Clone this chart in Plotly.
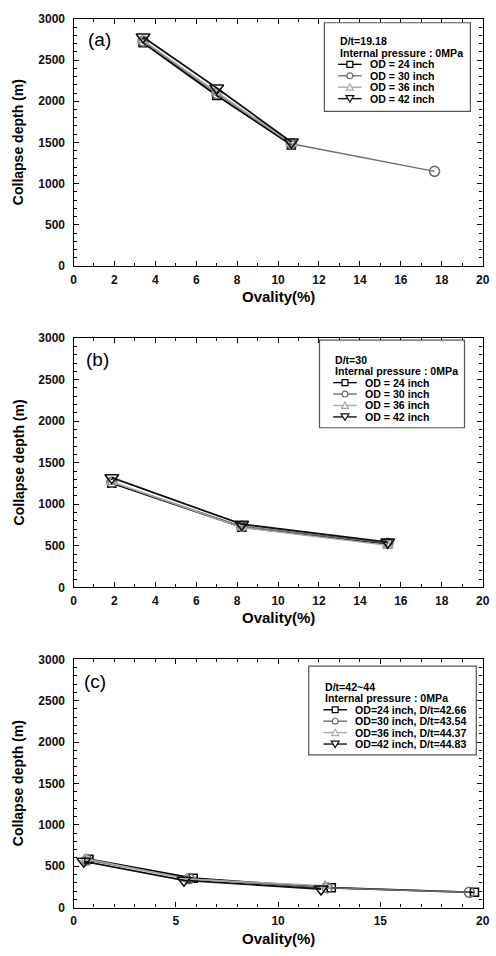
import plotly.graph_objects as go

W, H = 496, 956

# ---------------- data ----------------
series_names = ["OD = 24 inch", "OD = 30 inch", "OD = 36 inch", "OD = 42 inch"]
series_names_c = ["OD=24 inch, D/t=42.66", "OD=30 inch, D/t=43.54",
                  "OD=36 inch, D/t=44.37", "OD=42 inch, D/t=44.83"]

# panel (a) D/t = 19.18
a_x = [[3.4, 7.0, 10.65], [3.4, 7.0, 10.65, 17.65], [3.4, 7.0, 10.65], [3.4, 7.0, 10.65]]
a_y = [[2710, 2070, 1470], [2730, 2095, 1485, 1150], [2740, 2110, 1490], [2780, 2160, 1505]]

# panel (b) D/t = 30
b_x = [[1.87, 8.22, 15.36], [1.87, 8.22, 15.36], [1.87, 8.22, 15.36], [1.87, 8.22, 15.36]]
b_y = [[1255, 725, 525], [1265, 735, 530], [1270, 720, 505], [1320, 760, 545]]

# panel (c) D/t = 42~44
c_x = [[0.75, 5.85, 12.6, 19.6], [0.65, 5.65, 12.4, 19.35], [0.6, 5.55, 12.3], [0.5, 5.4, 12.1]]
c_y = [[585, 355, 240, 185], [575, 350, 240, 185], [590, 345, 265], [560, 330, 225]]

panel_labels = ["(a)", "(b)", "(c)"]
legend_headers = [["D/t=19.18", "Internal pressure : 0MPa"],
                  ["D/t=30", "Internal pressure : 0MPa"],
                  ["D/t=42~44", "Internal pressure : 0MPa"]]
x_title = "Ovality(%)"
y_title = "Collapse depth (m)"

# ---------------- styles ----------------
colors = ["#000000", "#6e6e6e", "#a8a8a8", "#111111"]
symbols = ["square-open", "circle-open", "triangle-up-open", "triangle-down-open"]
msizes = [8, 10, 9, 12]
lwidths = [1.8, 1.4, 1.4, 1.8]

FONT = "Liberation Sans, Arial, sans-serif"

def px_x(p):
    return p / W

def px_y(p):
    return 1 - p / H

# panel geometry in pixels: (left, right, top, bottom)
panels = [(72, 489.5, 12, 263), (72, 489.5, 336, 589), (72, 489.5, 662, 914)]

fig = go.Figure()

datasets = [(a_x, a_y, series_names), (b_x, b_y, series_names), (c_x, c_y, series_names_c)]

for pi, (xs, ys, names) in enumerate(datasets):
    ax = "" if pi == 0 else str(pi + 1)
    for si in range(4):
        fig.add_trace(go.Scatter(
            x=xs[si], y=ys[si], mode="lines+markers", name=names[si],
            xaxis="x" + ax, yaxis="y" + ax, showlegend=False,
            line=dict(color=colors[si], width=lwidths[si]),
            marker=dict(symbol=symbols[si], size=msizes[si], color=colors[si],
                        line=dict(width=1.6, color=colors[si])),
        ))

layout = dict(
    width=W, height=H, margin=dict(l=0, r=0, t=0, b=0),
    paper_bgcolor="white", plot_bgcolor="white",
    font=dict(family=FONT, color="black"),
    showlegend=False,
)

tickfont = dict(family=FONT, size=12, color="#111", weight="bold")

for pi, (l, r, t, b) in enumerate(panels):
    ax = "" if pi == 0 else str(pi + 1)
    if pi < 2:
        xdt, xminor = 2, 1
    else:
        xdt, xminor = 5, 1
    layout["xaxis" + ax] = dict(
        domain=[px_x(l), px_x(r)], anchor="y" + ax, range=[0, 20],
        tick0=0, dtick=xdt, ticks="inside", ticklen=5, tickwidth=1.2,
        tickcolor="black", showline=True, linecolor="black", linewidth=1.3,
        mirror="allticks", showgrid=False, zeroline=False,
        tickfont=tickfont, ticklabelstandoff=2, ticklabeloverflow="allow",
        minor=dict(dtick=xminor, ticks="inside", ticklen=3, tickwidth=1, tickcolor="black", showgrid=False),
    )
    layout["yaxis" + ax] = dict(
        domain=[px_y(b), px_y(t)], anchor="x" + ax, range=[0, 3000],
        tick0=0, dtick=500, ticks="inside", ticklen=5, tickwidth=1.2,
        tickcolor="black", showline=True, linecolor="black", linewidth=1.3,
        mirror="allticks", showgrid=False, zeroline=False,
        tickfont=tickfont, ticklabelstandoff=5, ticklabeloverflow="allow",
        minor=dict(dtick=100, ticks="inside", ticklen=3, tickwidth=1, tickcolor="black", showgrid=False),
    )

annotations = []
shapes = []

label_pos = [(98, 33), (96, 358), (94, 685)]
for pi, (l, r, t, b) in enumerate(panels):
    # axis titles
    annotations.append(dict(text=y_title, x=px_x(16), y=px_y((t + b) / 2), xref="paper", yref="paper",
                            textangle=-90, showarrow=False, xanchor="center", yanchor="middle",
                            font=dict(family=FONT, size=14, color="black", weight="bold")))
    annotations.append(dict(text=x_title, x=px_x(281), y=px_y(b + 31), xref="paper", yref="paper",
                            showarrow=False, xanchor="center", yanchor="middle",
                            font=dict(family=FONT, size=15, color="black", weight="bold")))
    lx, ly = label_pos[pi]
    annotations.append(dict(text=panel_labels[pi], x=px_x(lx), y=px_y(ly), xref="paper", yref="paper",
                            showarrow=False, xanchor="center", yanchor="middle",
                            font=dict(family=FONT, size=19, color="black")))

# legend boxes (drawn manually so their compact layout matches)
legend_boxes = [
    dict(x0=328, x1=477, y0=16, y1=106, first=35, sym_x=(342, 366), text_x=372),
    dict(x0=323, x1=471, y0=338, y1=427, first=358, sym_x=(337, 361), text_x=367),
    dict(x0=312, x1=483, y0=669, y1=759, first=690, sym_x=(327, 351), text_x=357),
]
legend_labels = [series_names, series_names, series_names_c]
line_gap = 11.6
LFS = 10.6
for pi, bx in enumerate(legend_boxes):
    shapes.append(dict(type="rect", xref="paper", yref="paper",
                       x0=px_x(bx["x0"]), x1=px_x(bx["x1"]), y0=px_y(bx["y1"]), y1=px_y(bx["y0"]),
                       line=dict(color="#555", width=1.2), fillcolor="white", layer="above"))
    # header lines
    for hi, htxt in enumerate(legend_headers[pi]):
        annotations.append(dict(text=htxt, x=px_x(bx["sym_x"][0]),
                                y=px_y(bx["first"] + hi * line_gap), xref="paper", yref="paper",
                                showarrow=False, xanchor="left", yanchor="middle",
                                font=dict(family=FONT, size=LFS, color="black", weight="bold")))
    for si in range(4):
        yy = bx["first"] + (si + 2) * line_gap
        sx0, sx1 = bx["sym_x"]
        shapes.append(dict(type="line", xref="paper", yref="paper",
                           x0=px_x(sx0), x1=px_x(sx1), y0=px_y(yy), y1=px_y(yy),
                           line=dict(color=colors[si], width=1.4), layer="above"))
        cx = (sx0 + sx1) / 2
        s = 3
        if si == 0:
            shapes.append(dict(type="rect", xref="paper", yref="paper",
                               x0=px_x(cx - s), x1=px_x(cx + s), y0=px_y(yy + s), y1=px_y(yy - s),
                               line=dict(color=colors[si], width=1.2), fillcolor="white", layer="above"))
        elif si == 1:
            shapes.append(dict(type="circle", xref="paper", yref="paper",
                               x0=px_x(cx - s), x1=px_x(cx + s), y0=px_y(yy + s), y1=px_y(yy - s),
                               line=dict(color=colors[si], width=1.2), fillcolor="white", layer="above"))
        else:
            if si == 2:
                pts = [(cx - 3.5, yy + 3), (cx + 3.5, yy + 3), (cx, yy - 3.5)]
            else:
                pts = [(cx - 4, yy - 3), (cx + 4, yy - 3), (cx, yy + 3.5)]
            path = "M {} {} L {} {} L {} {} Z".format(
                *[v for p in pts for v in (px_x(p[0]), px_y(p[1]))])
            shapes.append(dict(type="path", xref="paper", yref="paper", path=path,
                               line=dict(color=colors[si], width=1.2), fillcolor="white", layer="above"))
        annotations.append(dict(text=legend_labels[pi][si], x=px_x(bx["text_x"]), y=px_y(yy),
                                xref="paper", yref="paper", showarrow=False,
                                xanchor="left", yanchor="middle",
                                font=dict(family=FONT, size=LFS, color="black", weight="bold")))

layout["annotations"] = annotations
layout["shapes"] = shapes
fig.update_layout(**layout)

fig.write_html("out.html")
